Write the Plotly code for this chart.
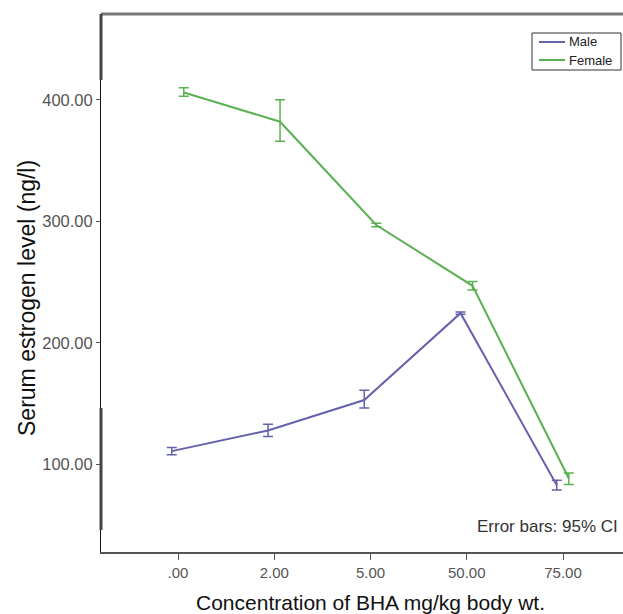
import numpy as np
import plotly.graph_objects as go

categories = [".00", "2.00", "5.00", "50.00", "75.00"]
male_mean = [111.0, 128.0, 153.0, 224.5, 83.0]
male_lo = [108.0, 123.0, 146.5, 223.5, 79.0]
male_hi = [114.0, 133.0, 161.0, 225.5, 87.0]
female_mean = [406.0, 382.0, 297.0, 247.0, 88.5]
female_lo = [403.0, 366.0, 295.5, 243.5, 83.5]
female_hi = [410.0, 400.0, 298.5, 250.5, 93.0]
y_ticks = [100, 200, 300, 400]
series_names = ["Male", "Female"]

male_color = "#6662AC"
female_color = "#5BB152"

# plot-area geometry in pixels (for decorations)
L, R, T, B = 101, 623, 14, 552
W, H = R - L, B - T
def px(x): return (x - L) / W
def py(y): return (B - y) / H

idx = np.arange(len(categories))

def err(mean, lo, hi, color):
    m = np.array(mean)
    return dict(type="data", symmetric=False,
                array=(np.array(hi) - m).tolist(),
                arrayminus=(m - np.array(lo)).tolist(),
                width=5, thickness=1.5, color=color)

fig = go.Figure()
fig.add_trace(go.Scatter(x=idx - 0.065, y=male_mean, mode="lines", name=series_names[0],
                         line=dict(color=male_color, width=2),
                         error_y=err(male_mean, male_lo, male_hi, male_color)))
fig.add_trace(go.Scatter(x=idx + 0.06, y=female_mean, mode="lines", name=series_names[1],
                         line=dict(color=female_color, width=2),
                         error_y=err(female_mean, female_lo, female_hi, female_color)))

fig.update_layout(
    width=623, height=614,
    margin=dict(l=L, r=623 - R, t=T, b=614 - B),
    paper_bgcolor="white", plot_bgcolor="white",
    font=dict(family="Liberation Sans, Arial, sans-serif", color="#333"),
    showlegend=False,
    xaxis=dict(range=[-0.8, 4.623], tickmode="array", tickvals=idx.tolist(),
               ticktext=categories, showgrid=False, zeroline=False,
               showline=True, linecolor="#555", linewidth=2,
               ticks="outside", ticklen=6, tickcolor="#555", tickwidth=1,
               tickfont=dict(size=15, color="#555")),
    yaxis=dict(range=[28, 470.6], tickmode="array", tickvals=y_ticks,
               tickformat=".2f", showgrid=False, zeroline=False,
               showline=True, linecolor="#111", linewidth=1,
               ticks="outside", ticklen=4, tickcolor="#555", tickwidth=1,
               ticklabelstandoff=0,
               tickfont=dict(size=16.5, color="#555")),
)

# axis titles
fig.add_annotation(text="Concentration of BHA mg/kg body wt.", xref="paper", yref="paper",
                   x=px(370), y=py(602), xanchor="center", yanchor="middle",
                   showarrow=False, font=dict(size=21, color="#111"))
fig.add_annotation(text="Serum estrogen level (ng/l)", xref="paper", yref="paper",
                   x=px(27), y=py(298), xanchor="center", yanchor="middle",
                   textangle=-90, showarrow=False, font=dict(size=23, color="#111"))

# frame details
fig.add_shape(type="line", xref="paper", yref="paper", x0=0, x1=1, y0=1, y1=1,
              line=dict(color="#777", width=3))
fig.add_shape(type="line", xref="paper", yref="paper", x0=0, x1=0,
              y0=py(80), y1=1, line=dict(color="#444", width=3))
fig.add_shape(type="line", xref="paper", yref="paper", x0=0, x1=0,
              y0=py(530), y1=py(408), line=dict(color="#444", width=3))

# legend box
fig.add_shape(type="rect", xref="paper", yref="paper", x0=px(532), x1=px(621),
              y0=py(70), y1=py(33), line=dict(color="#333", width=1), fillcolor="white")
for name, color, yy in [(series_names[0], male_color, 42), (series_names[1], female_color, 60)]:
    fig.add_shape(type="line", xref="paper", yref="paper", x0=px(539), x1=px(565),
                  y0=py(yy), y1=py(yy), line=dict(color=color, width=2))
    fig.add_annotation(text=name, xref="paper", yref="paper", x=px(567), y=py(yy),
                       xanchor="left", yanchor="middle", showarrow=False,
                       font=dict(size=13, color="#222"))

fig.add_annotation(text="Error bars: 95% CI", xref="paper", yref="paper",
                   x=px(620), y=py(526), xanchor="right", yanchor="middle",
                   showarrow=False, font=dict(size=17, color="#333"))

fig.write_html("out.html")
